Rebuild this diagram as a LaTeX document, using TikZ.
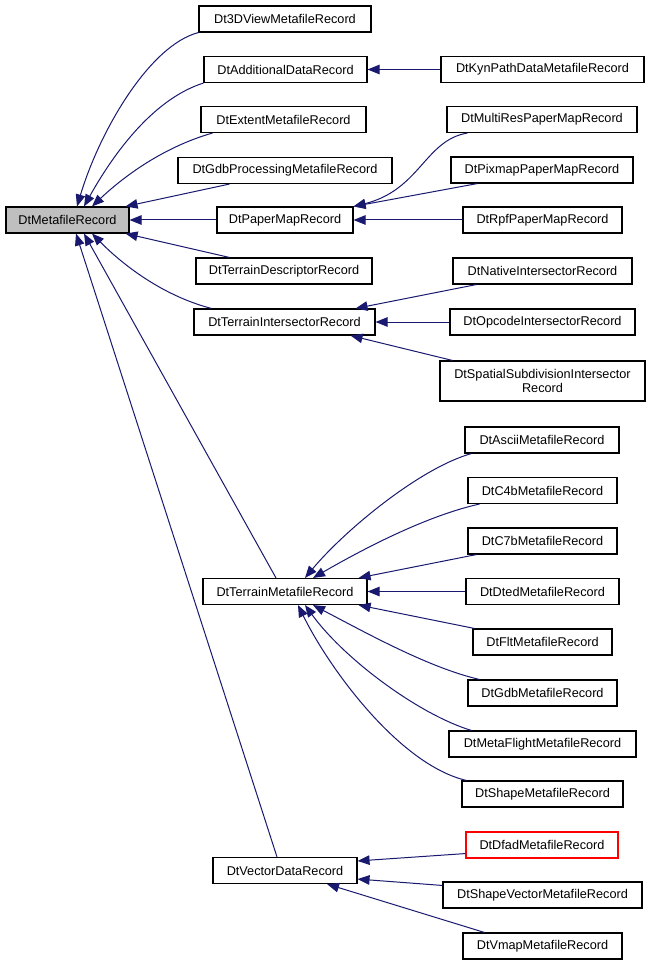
\documentclass[tikz,border=0pt]{standalone}
\usepackage{fontspec}
\setmainfont{Liberation Sans}
\usetikzlibrary{arrows.meta}
\definecolor{edgeblue}{RGB}{25,25,112}
\definecolor{rootgray}{RGB}{191,191,191}
\tikzset{
  box/.style={draw=black, line width=1.1pt, inner sep=0pt, minimum height=26pt,
    font=\fontsize{12.7}{14.5}\selectfont, align=center, fill=white},
  edge/.style={draw=edgeblue, line width=1pt, -{Triangle[length=12pt,width=9.5pt]}}
}
\begin{document}
\begin{tikzpicture}[x=1pt,y=-1pt]
\useasboundingbox[fill=white] (0,0) rectangle (651,965);
% left column
\node[box, fill=rootgray, minimum width=123pt] (meta) at (67.5,220) {DtMetafileRecord};
% middle column
\node[box, minimum width=172pt] (v3d) at (285,19) {Dt3DViewMetafileRecord};
\node[box, minimum width=163pt] (add) at (285.5,69.5) {DtAdditionalDataRecord};
\node[box, minimum width=165pt] (ext) at (283.5,119.5) {DtExtentMetafileRecord};
\node[box, minimum width=214pt] (gdbp) at (285,170.5) {DtGdbProcessingMetafileRecord};
\node[box, minimum width=136pt] (paper) at (285,220) {DtPaperMapRecord};
\node[box, minimum width=176pt] (tdesc) at (284,271) {DtTerrainDescriptorRecord};
\node[box, minimum width=181pt] (tint) at (284.5,322) {DtTerrainIntersectorRecord};
\node[box, minimum width=164pt] (tmeta) at (285,591.5) {DtTerrainMetafileRecord};
\node[box, minimum width=144pt] (vec) at (285,870.5) {DtVectorDataRecord};
% right column
\node[box, minimum width=203pt] (kyn) at (542.5,69.5) {DtKynPathDataMetafileRecord};
\node[box, minimum width=190pt] (multi) at (542,119.5) {DtMultiResPaperMapRecord};
\node[box, minimum width=182pt] (pix) at (542,170) {DtPixmapPaperMapRecord};
\node[box, minimum width=159pt] (rpf) at (542.5,220) {DtRpfPaperMapRecord};
\node[box, minimum width=179pt] (native) at (542.5,271) {DtNativeIntersectorRecord};
\node[box, minimum width=185pt] (opcode) at (542.5,322) {DtOpcodeIntersectorRecord};
\node[box, minimum width=205pt, minimum height=40pt] (spatial) at (542.5,381) {DtSpatialSubdivisionIntersector\\Record};
\node[box, minimum width=154pt] (ascii) at (542,440) {DtAsciiMetafileRecord};
\node[box, minimum width=149pt] (c4b) at (542.5,490.5) {DtC4bMetafileRecord};
\node[box, minimum width=149pt] (c7b) at (542.5,541) {DtC7bMetafileRecord};
\node[box, minimum width=153pt] (dted) at (542.5,591.5) {DtDtedMetafileRecord};
\node[box, minimum width=139pt] (flt) at (542.5,642) {DtFltMetafileRecord};
\node[box, minimum width=149pt] (gdb) at (542.5,693) {DtGdbMetafileRecord};
\node[box, minimum width=187pt] (mflight) at (542.5,744) {DtMetaFlightMetafileRecord};
\node[box, minimum width=161pt] (shape) at (542.5,794) {DtShapeMetafileRecord};
\node[box, draw=red, minimum width=152pt] (dfad) at (542,845) {DtDfadMetafileRecord};
\node[box, minimum width=199pt] (svec) at (542.5,895) {DtShapeVectorMetafileRecord};
\node[box, minimum width=159pt] (vmap) at (542.5,946) {DtVmapMetafileRecord};
% edges into DtMetafileRecord
\draw[edge] (v3d.south west) .. controls (150,45) and (100,130) .. ([xshift=9.5pt]meta.north);
\draw[edge] (add.south west) .. controls (150,100) and (110,160) .. ([xshift=16.5pt]meta.north);
\draw[edge] ([xshift=12pt]ext.south west) .. controls (160,148) and (120,180) .. ([xshift=24.5pt]meta.north);
\draw[edge] ([xshift=52pt]gdbp.south west) -- ([xshift=-4pt]meta.north east);
\draw[edge] (paper.west) -- (meta.east);
\draw[edge] ([xshift=34pt]tdesc.north west) -- ([xshift=-4pt]meta.south east);
\draw[edge] ([xshift=18pt]tint.north west) .. controls (160,295) and (120,262) .. ([xshift=24.5pt]meta.south);
\draw[edge] ([xshift=-9pt]tmeta.north) -- ([xshift=16.5pt]meta.south);
\draw[edge] ([xshift=-8pt]vec.north) -- ([xshift=8.5pt]meta.south);
% DtAdditionalDataRecord
\draw[edge] (kyn.west) -- (add.east);
% DtPaperMapRecord
\draw[edge] ([xshift=21pt]multi.south west) .. controls (425,140) and (420,190) .. (paper.north east);
\draw[edge] ([xshift=27pt]pix.south west) -- (paper.north east);
\draw[edge] (rpf.west) -- (paper.east);
% DtTerrainIntersectorRecord
\draw[edge] ([xshift=24pt]native.south west) -- ([xshift=-20pt]tint.north east);
\draw[edge] (opcode.west) -- (tint.east);
\draw[edge] ([xshift=13pt]spatial.north west) -- ([xshift=-25pt]tint.south east);
% DtTerrainMetafileRecord
\draw[edge] ([xshift=7pt]ascii.south west) .. controls (420,468) and (345,530) .. ([xshift=20pt]tmeta.north);
\draw[edge] ([xshift=12pt]c4b.south west) .. controls (430,515) and (370,545) .. ([xshift=28pt]tmeta.north);
\draw[edge] ([xshift=9pt]c7b.south west) -- ([xshift=-9pt]tmeta.north east);
\draw[edge] (dted.west) -- (tmeta.east);
\draw[edge] ([xshift=2pt]flt.north west) -- ([xshift=-9pt]tmeta.south east);
\draw[edge] ([xshift=12pt]gdb.north west) .. controls (430,668) and (370,635) .. ([xshift=28pt]tmeta.south);
\draw[edge] ([xshift=23pt]mflight.north west) .. controls (420,715) and (345,660) .. ([xshift=20pt]tmeta.south);
\draw[edge] ([xshift=5pt]shape.north west) .. controls (400,765) and (330,670) .. ([xshift=13pt]tmeta.south);
% DtVectorDataRecord
\draw[edge] ([yshift=5pt]dfad.south west) -- ([yshift=-4pt]vec.north east);
\draw[edge] ([yshift=-4pt]svec.north west) -- ([yshift=5pt]vec.south east);
\draw[edge] ([xshift=22pt]vmap.north west) -- ([xshift=42pt]vec.south);
\end{tikzpicture}
\end{document}
